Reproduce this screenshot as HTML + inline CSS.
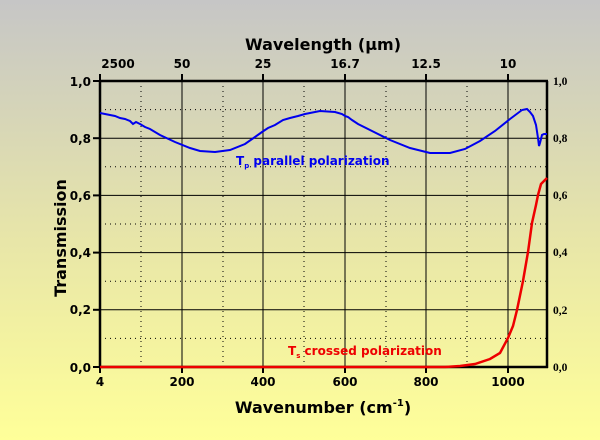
<!DOCTYPE html>
<html><head><style>
body{margin:0;width:600px;height:440px;overflow:hidden;background:linear-gradient(#c6c6c6,#e8e6a8 55%,#ffff99);}
svg{display:block}
text{font-family:"DejaVu Sans","Liberation Sans",sans-serif;font-weight:bold}
</style></head><body>
<svg width="600" height="440" viewBox="0 0 600 440">
<g stroke="#000" stroke-width="1" stroke-dasharray="1,4">
<line x1="141" y1="81" x2="141" y2="367"/><line x1="223" y1="81" x2="223" y2="367"/><line x1="304" y1="81" x2="304" y2="367"/><line x1="386" y1="81" x2="386" y2="367"/><line x1="467" y1="81" x2="467" y2="367"/>
<line x1="100" y1="338.4" x2="547" y2="338.4"/><line x1="100" y1="281.2" x2="547" y2="281.2"/><line x1="100" y1="224" x2="547" y2="224"/><line x1="100" y1="166.8" x2="547" y2="166.8"/><line x1="100" y1="109.6" x2="547" y2="109.6"/>
</g>
<g stroke="#000" stroke-width="1">
<line x1="182" y1="81" x2="182" y2="367"/><line x1="263" y1="81" x2="263" y2="367"/><line x1="345" y1="81" x2="345" y2="367"/><line x1="426" y1="81" x2="426" y2="367"/><line x1="508" y1="81" x2="508" y2="367"/>
<line x1="100" y1="309.8" x2="547" y2="309.8"/><line x1="100" y1="252.6" x2="547" y2="252.6"/><line x1="100" y1="195.4" x2="547" y2="195.4"/><line x1="100" y1="138.2" x2="547" y2="138.2"/>
</g>
<g stroke="#000" stroke-width="2.5" fill="none">
<line x1="100" y1="81" x2="100" y2="368"/><line x1="547" y1="81" x2="547" y2="368"/>
<line x1="99" y1="81" x2="548" y2="81"/><line x1="99" y1="367" x2="548" y2="367"/>
</g>
<g stroke="#000" stroke-width="2">
<line x1="93" y1="81" x2="100" y2="81"/><line x1="93" y1="138.2" x2="100" y2="138.2"/><line x1="93" y1="195.4" x2="100" y2="195.4"/><line x1="93" y1="252.6" x2="100" y2="252.6"/><line x1="93" y1="309.8" x2="100" y2="309.8"/><line x1="93" y1="367" x2="100" y2="367"/>
<line x1="182" y1="74" x2="182" y2="81"/><line x1="263" y1="74" x2="263" y2="81"/><line x1="345" y1="74" x2="345" y2="81"/><line x1="426" y1="74" x2="426" y2="81"/><line x1="508" y1="74" x2="508" y2="81"/><line x1="100" y1="74" x2="100" y2="81"/>
<line x1="100" y1="367" x2="100" y2="373"/><line x1="182" y1="367" x2="182" y2="373"/><line x1="263" y1="367" x2="263" y2="373"/><line x1="345" y1="367" x2="345" y2="373"/><line x1="426" y1="367" x2="426" y2="373"/><line x1="508" y1="367" x2="508" y2="373"/>
</g>
<polyline fill="none" stroke="#0000ee" stroke-width="2" points="100,113 105,114 110,115 115,116 120,118 125,119 130,121 133,124 136,122 140,124 145,127 150,129 160,135 175,142 190,148 200,151 215,152 230,150 245,144 255,137 262,132 268,128 275,125 283,120 290,118 298,116 305,114 320,111 335,112 342,114 345,116 348,117 352,120 358,124 370,130 390,140 410,148 430,153 450,153 465,149 480,141 495,131 510,119 522,110 527,109 530,112 533,116 536,125 538,138 539,146 540,143 542,135 544,134 547,134"/>
<polyline fill="none" stroke="#ee0000" stroke-width="2.5" points="100,367 445,367 460,366 475,364 490,359 500,353 508,338 513,326 517,310 523,281 528,252 532,223 536,205 538,195 541,184 547,178"/>
<g font-size="12" fill="#000">
<text x="91" y="86" text-anchor="end">1,0</text><text x="91" y="143" text-anchor="end">0,8</text><text x="91" y="200" text-anchor="end">0,6</text><text x="91" y="257" text-anchor="end">0,4</text><text x="91" y="314" text-anchor="end">0,2</text><text x="91" y="372" text-anchor="end">0,0</text>
<text x="100" y="386" text-anchor="middle">4</text><text x="182" y="386" text-anchor="middle">200</text><text x="263" y="386" text-anchor="middle">400</text><text x="345" y="386" text-anchor="middle">600</text><text x="426" y="386" text-anchor="middle">800</text><text x="508" y="386" text-anchor="middle">1000</text>
<text x="118" y="68" text-anchor="middle">2500</text><text x="182" y="68" text-anchor="middle">50</text><text x="263" y="68" text-anchor="middle">25</text><text x="345" y="68" text-anchor="middle">16.7</text><text x="426" y="68" text-anchor="middle">12.5</text><text x="508" y="68" text-anchor="middle">10</text>
</g>
<g font-size="11.5" fill="#000">
<text x="553" y="85" style="font-family:'Liberation Serif',serif">1,0</text><text x="553" y="142" style="font-family:'Liberation Serif',serif">0,8</text><text x="553" y="199" style="font-family:'Liberation Serif',serif">0,6</text><text x="553" y="256" style="font-family:'Liberation Serif',serif">0,4</text><text x="553" y="314" style="font-family:'Liberation Serif',serif">0,2</text><text x="553" y="371" style="font-family:'Liberation Serif',serif">0,0</text>
</g>
<text x="323" y="50" font-size="16" text-anchor="middle">Wavelength (µm)</text>
<text x="323" y="413" font-size="16" text-anchor="middle">Wavenumber (cm<tspan font-size="10" dy="-7">-1</tspan><tspan dy="7">)</tspan></text>
<text transform="translate(66,238) rotate(-90)" font-size="16" text-anchor="middle">Transmission</text>
<text x="236" y="165" font-size="12" fill="#0000ee">T<tspan font-size="7" dy="3">p</tspan><tspan dy="-3"> parallel polarization</tspan></text>
<text x="288" y="355" font-size="12" fill="#ee0000">T<tspan font-size="7" dy="3">s</tspan><tspan dy="-3"> crossed polarization</tspan></text>
</svg>
</body></html>
